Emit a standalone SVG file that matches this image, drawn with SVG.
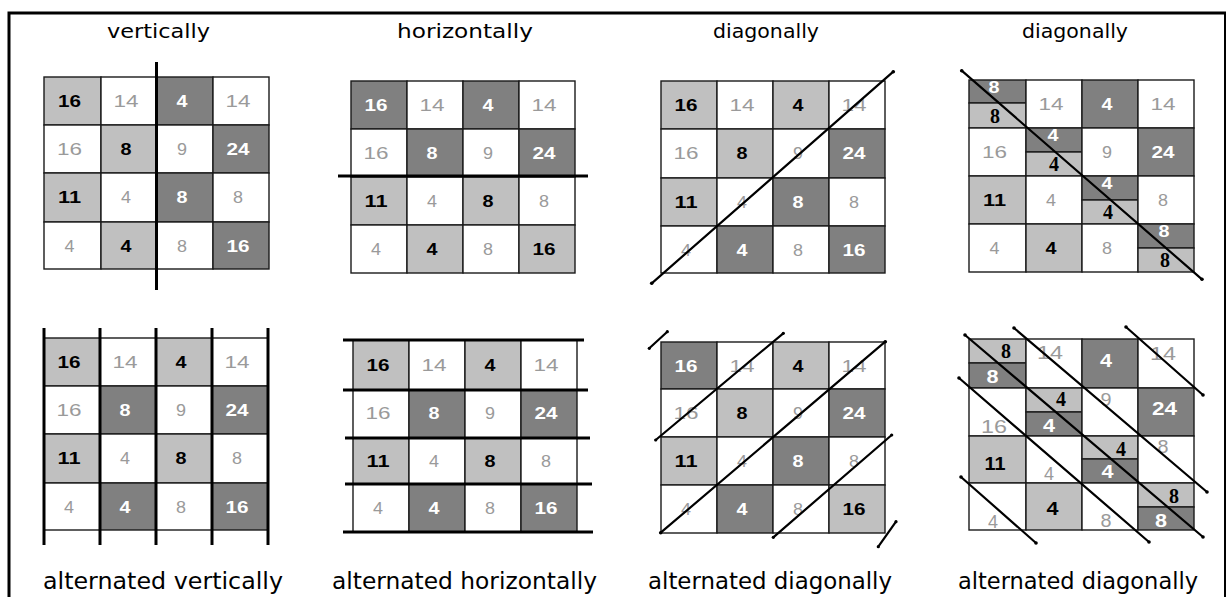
<svg xmlns="http://www.w3.org/2000/svg" width="1226" height="597" viewBox="0 0 1226 597">
<style>
rect.c{stroke:#1a1a1a;stroke-width:1.4}
.L{fill:#c0c0c0}.D{fill:#808080}.W{fill:#ffffff}
text{font-family:"Liberation Sans",Arial,sans-serif;font-size:17px;text-anchor:middle}
.b{fill:#000;font-weight:bold}
.g{fill:#9a9a9a}
.w{fill:#fff;font-weight:bold}
.s{fill:#000;font-weight:bold;font-family:"Liberation Serif","Times New Roman",serif;font-size:20px}
.big{font-size:18px}
.lbl{font-family:"DejaVu Sans",sans-serif;font-size:20px;fill:#000}
.lbl2{font-family:"DejaVu Sans",sans-serif;font-size:23px;fill:#000}
.thick{stroke:#000;stroke-width:3;fill:none}
.diag{stroke:#000;stroke-width:2.2;stroke-linecap:round;fill:none}
.dot{fill:#000}
</style>
<rect x="9" y="13" width="1216.5" height="620" fill="#fff" stroke="#000" stroke-width="3"/>

<g id="labels">
<text class="lbl" x="158.5" y="38" textLength="103" lengthAdjust="spacingAndGlyphs">vertically</text>
<text class="lbl" x="465" y="38" textLength="136" lengthAdjust="spacingAndGlyphs">horizontally</text>
<text class="lbl" x="766" y="38" textLength="106" lengthAdjust="spacingAndGlyphs">diagonally</text>
<text class="lbl" x="1075" y="38" textLength="106" lengthAdjust="spacingAndGlyphs">diagonally</text>
<text class="lbl2" x="163" y="589" textLength="240" lengthAdjust="spacingAndGlyphs">alternated vertically</text>
<text class="lbl2" x="464.5" y="589" textLength="265" lengthAdjust="spacingAndGlyphs">alternated horizontally</text>
<text class="lbl2" x="770" y="589" textLength="244" lengthAdjust="spacingAndGlyphs">alternated diagonally</text>
<text class="lbl2" x="1078" y="589" textLength="240" lengthAdjust="spacingAndGlyphs">alternated diagonally</text>
</g>

<!-- Grid 1: vertically -->
<g id="grid1">
<rect class="c L" x="44" y="77" width="57" height="48"/><rect class="c W" x="101" y="77" width="56" height="48"/><rect class="c D" x="157" y="77" width="56" height="48"/><rect class="c W" x="213" y="77" width="56" height="48"/>
<rect class="c W" x="44" y="125" width="57" height="48"/><rect class="c L" x="101" y="125" width="56" height="48"/><rect class="c W" x="157" y="125" width="56" height="48"/><rect class="c D" x="213" y="125" width="56" height="48"/>
<rect class="c L" x="44" y="173" width="57" height="49"/><rect class="c W" x="101" y="173" width="56" height="49"/><rect class="c D" x="157" y="173" width="56" height="49"/><rect class="c W" x="213" y="173" width="56" height="49"/>
<rect class="c W" x="44" y="222" width="57" height="47"/><rect class="c L" x="101" y="222" width="56" height="47"/><rect class="c W" x="157" y="222" width="56" height="47"/><rect class="c D" x="213" y="222" width="56" height="47"/>
<text class="b" x="69.5" y="107" textLength="23" lengthAdjust="spacingAndGlyphs">16</text><text class="g" x="126" y="107" textLength="25" lengthAdjust="spacingAndGlyphs">14</text><text class="w" x="182" y="107" textLength="11" lengthAdjust="spacingAndGlyphs">4</text><text class="g" x="238" y="107" textLength="25" lengthAdjust="spacingAndGlyphs">14</text>
<text class="g" x="69.5" y="155" textLength="25" lengthAdjust="spacingAndGlyphs">16</text><text class="b" x="126" y="155" textLength="11" lengthAdjust="spacingAndGlyphs">8</text><text class="g" x="182" y="155" textLength="10" lengthAdjust="spacingAndGlyphs">9</text><text class="w" x="238" y="155" textLength="23" lengthAdjust="spacingAndGlyphs">24</text>
<text class="b" x="69.5" y="203" textLength="23" lengthAdjust="spacingAndGlyphs">11</text><text class="g" x="126" y="203" textLength="10" lengthAdjust="spacingAndGlyphs">4</text><text class="w" x="182" y="203" textLength="11" lengthAdjust="spacingAndGlyphs">8</text><text class="g" x="238" y="203" textLength="10" lengthAdjust="spacingAndGlyphs">8</text>
<text class="g" x="69.5" y="252" textLength="10" lengthAdjust="spacingAndGlyphs">4</text><text class="b" x="126" y="252" textLength="11" lengthAdjust="spacingAndGlyphs">4</text><text class="g" x="182" y="252" textLength="10" lengthAdjust="spacingAndGlyphs">8</text><text class="w" x="238" y="252" textLength="23" lengthAdjust="spacingAndGlyphs">16</text>
</g>

<!-- Grid 2: horizontally -->
<g id="grid2">
<rect class="c D" x="351" y="81" width="56" height="48"/><rect class="c W" x="407" y="81" width="56" height="48"/><rect class="c D" x="463" y="81" width="56" height="48"/><rect class="c W" x="519" y="81" width="56" height="48"/>
<rect class="c W" x="351" y="129" width="56" height="48"/><rect class="c D" x="407" y="129" width="56" height="48"/><rect class="c W" x="463" y="129" width="56" height="48"/><rect class="c D" x="519" y="129" width="56" height="48"/>
<rect class="c L" x="351" y="177" width="56" height="48"/><rect class="c W" x="407" y="177" width="56" height="48"/><rect class="c L" x="463" y="177" width="56" height="48"/><rect class="c W" x="519" y="177" width="56" height="48"/>
<rect class="c W" x="351" y="225" width="56" height="48"/><rect class="c L" x="407" y="225" width="56" height="48"/><rect class="c W" x="463" y="225" width="56" height="48"/><rect class="c L" x="519" y="225" width="56" height="48"/>
<text class="w" x="376" y="111" textLength="23" lengthAdjust="spacingAndGlyphs">16</text><text class="g" x="432" y="111" textLength="25" lengthAdjust="spacingAndGlyphs">14</text><text class="w" x="488" y="111" textLength="11" lengthAdjust="spacingAndGlyphs">4</text><text class="g" x="544" y="111" textLength="25" lengthAdjust="spacingAndGlyphs">14</text>
<text class="g" x="376" y="159" textLength="25" lengthAdjust="spacingAndGlyphs">16</text><text class="w" x="432" y="159" textLength="11" lengthAdjust="spacingAndGlyphs">8</text><text class="g" x="488" y="159" textLength="10" lengthAdjust="spacingAndGlyphs">9</text><text class="w" x="544" y="159" textLength="23" lengthAdjust="spacingAndGlyphs">24</text>
<text class="b" x="376" y="207" textLength="23" lengthAdjust="spacingAndGlyphs">11</text><text class="g" x="432" y="207" textLength="10" lengthAdjust="spacingAndGlyphs">4</text><text class="b" x="488" y="207" textLength="11" lengthAdjust="spacingAndGlyphs">8</text><text class="g" x="544" y="207" textLength="10" lengthAdjust="spacingAndGlyphs">8</text>
<text class="g" x="376" y="255" textLength="10" lengthAdjust="spacingAndGlyphs">4</text><text class="b" x="432" y="255" textLength="11" lengthAdjust="spacingAndGlyphs">4</text><text class="g" x="488" y="255" textLength="10" lengthAdjust="spacingAndGlyphs">8</text><text class="b" x="544" y="255" textLength="23" lengthAdjust="spacingAndGlyphs">16</text>
</g>

<!-- Grid 3: diagonally -->
<g id="grid3">
<rect class="c L" x="661" y="81" width="56" height="48"/><rect class="c W" x="717" y="81" width="56" height="48"/><rect class="c L" x="773" y="81" width="56" height="48"/><rect class="c W" x="829" y="81" width="56" height="48"/>
<rect class="c W" x="661" y="129" width="56" height="49"/><rect class="c L" x="717" y="129" width="56" height="49"/><rect class="c W" x="773" y="129" width="56" height="49"/><rect class="c D" x="829" y="129" width="56" height="49"/>
<rect class="c L" x="661" y="178" width="56" height="48"/><rect class="c W" x="717" y="178" width="56" height="48"/><rect class="c D" x="773" y="178" width="56" height="48"/><rect class="c W" x="829" y="178" width="56" height="48"/>
<rect class="c W" x="661" y="226" width="56" height="47"/><rect class="c D" x="717" y="226" width="56" height="47"/><rect class="c W" x="773" y="226" width="56" height="47"/><rect class="c D" x="829" y="226" width="56" height="47"/>
<text class="b" x="686" y="111" textLength="23" lengthAdjust="spacingAndGlyphs">16</text><text class="g" x="742" y="111" textLength="25" lengthAdjust="spacingAndGlyphs">14</text><text class="b" x="798" y="111" textLength="11" lengthAdjust="spacingAndGlyphs">4</text><text class="g" x="854" y="111" textLength="25" lengthAdjust="spacingAndGlyphs">14</text>
<text class="g" x="686" y="159" textLength="25" lengthAdjust="spacingAndGlyphs">16</text><text class="b" x="742" y="159" textLength="11" lengthAdjust="spacingAndGlyphs">8</text><text class="g" x="798" y="159" textLength="10" lengthAdjust="spacingAndGlyphs">9</text><text class="w" x="854" y="159" textLength="23" lengthAdjust="spacingAndGlyphs">24</text>
<text class="b" x="686" y="208" textLength="23" lengthAdjust="spacingAndGlyphs">11</text><text class="g" x="742" y="208" textLength="10" lengthAdjust="spacingAndGlyphs">4</text><text class="w" x="798" y="208" textLength="11" lengthAdjust="spacingAndGlyphs">8</text><text class="g" x="854" y="208" textLength="10" lengthAdjust="spacingAndGlyphs">8</text>
<text class="g" x="686" y="256" textLength="10" lengthAdjust="spacingAndGlyphs">4</text><text class="w" x="742" y="256" textLength="11" lengthAdjust="spacingAndGlyphs">4</text><text class="g" x="798" y="256" textLength="10" lengthAdjust="spacingAndGlyphs">8</text><text class="w" x="854" y="256" textLength="23" lengthAdjust="spacingAndGlyphs">16</text>
</g>

<!-- Grid 4: diagonally (split cells) -->
<g id="grid4">
<rect class="c D" x="969" y="80" width="57" height="23"/><rect class="c L" x="969" y="103" width="57" height="25"/><rect class="c W" x="1026" y="80" width="56" height="48"/><rect class="c D" x="1082" y="80" width="56" height="48"/><rect class="c W" x="1138" y="80" width="56" height="48"/>
<rect class="c W" x="969" y="128" width="57" height="48"/><rect class="c D" x="1026" y="128" width="56" height="24"/><rect class="c L" x="1026" y="152" width="56" height="24"/><rect class="c W" x="1082" y="128" width="56" height="48"/><rect class="c D" x="1138" y="128" width="56" height="48"/>
<rect class="c L" x="969" y="176" width="57" height="48"/><rect class="c W" x="1026" y="176" width="56" height="48"/><rect class="c D" x="1082" y="176" width="56" height="24"/><rect class="c L" x="1082" y="200" width="56" height="24"/><rect class="c W" x="1138" y="176" width="56" height="48"/>
<rect class="c W" x="969" y="224" width="57" height="48"/><rect class="c L" x="1026" y="224" width="56" height="48"/><rect class="c W" x="1082" y="224" width="56" height="48"/><rect class="c D" x="1138" y="224" width="56" height="24"/><rect class="c L" x="1138" y="248" width="56" height="24"/>
<text class="w" x="994" y="93" textLength="11" lengthAdjust="spacingAndGlyphs">8</text><text class="s" x="995" y="123">8</text><text class="g" x="1051" y="110" textLength="25" lengthAdjust="spacingAndGlyphs">14</text><text class="w" x="1107" y="110" textLength="11" lengthAdjust="spacingAndGlyphs">4</text><text class="g" x="1163" y="110" textLength="25" lengthAdjust="spacingAndGlyphs">14</text>
<text class="g" x="994.5" y="158" textLength="25" lengthAdjust="spacingAndGlyphs">16</text><text class="w" x="1053" y="141" textLength="11" lengthAdjust="spacingAndGlyphs">4</text><text class="s" x="1054" y="171">4</text><text class="g" x="1107" y="158" textLength="10" lengthAdjust="spacingAndGlyphs">9</text><text class="w" x="1163" y="158" textLength="23" lengthAdjust="spacingAndGlyphs">24</text>
<text class="b" x="994.5" y="206" textLength="23" lengthAdjust="spacingAndGlyphs">11</text><text class="g" x="1051" y="206" textLength="10" lengthAdjust="spacingAndGlyphs">4</text><text class="w" x="1107" y="189" textLength="11" lengthAdjust="spacingAndGlyphs">4</text><text class="s" x="1108" y="219">4</text><text class="g" x="1163" y="206" textLength="10" lengthAdjust="spacingAndGlyphs">8</text>
<text class="g" x="994.5" y="254" textLength="10" lengthAdjust="spacingAndGlyphs">4</text><text class="b" x="1051" y="254" textLength="11" lengthAdjust="spacingAndGlyphs">4</text><text class="g" x="1107" y="254" textLength="10" lengthAdjust="spacingAndGlyphs">8</text><text class="w" x="1164" y="237" textLength="11" lengthAdjust="spacingAndGlyphs">8</text><text class="s" x="1165" y="267">8</text>
</g>

<!-- Grid 5: alternated vertically -->
<g id="grid5">
<rect class="c L" x="44" y="338" width="56" height="48"/><rect class="c W" x="100" y="338" width="56" height="48"/><rect class="c L" x="156" y="338" width="56" height="48"/><rect class="c W" x="212" y="338" width="56" height="48"/>
<rect class="c W" x="44" y="386" width="56" height="48"/><rect class="c D" x="100" y="386" width="56" height="48"/><rect class="c W" x="156" y="386" width="56" height="48"/><rect class="c D" x="212" y="386" width="56" height="48"/>
<rect class="c L" x="44" y="434" width="56" height="49"/><rect class="c W" x="100" y="434" width="56" height="49"/><rect class="c L" x="156" y="434" width="56" height="49"/><rect class="c W" x="212" y="434" width="56" height="49"/>
<rect class="c W" x="44" y="483" width="56" height="47"/><rect class="c D" x="100" y="483" width="56" height="47"/><rect class="c W" x="156" y="483" width="56" height="47"/><rect class="c D" x="212" y="483" width="56" height="47"/>
<text class="b" x="69" y="368" textLength="23" lengthAdjust="spacingAndGlyphs">16</text><text class="g" x="125" y="368" textLength="25" lengthAdjust="spacingAndGlyphs">14</text><text class="b" x="181" y="368" textLength="11" lengthAdjust="spacingAndGlyphs">4</text><text class="g" x="237" y="368" textLength="25" lengthAdjust="spacingAndGlyphs">14</text>
<text class="g" x="69" y="416" textLength="25" lengthAdjust="spacingAndGlyphs">16</text><text class="w" x="125" y="416" textLength="11" lengthAdjust="spacingAndGlyphs">8</text><text class="g" x="181" y="416" textLength="10" lengthAdjust="spacingAndGlyphs">9</text><text class="w" x="237" y="416" textLength="23" lengthAdjust="spacingAndGlyphs">24</text>
<text class="b" x="69" y="464" textLength="23" lengthAdjust="spacingAndGlyphs">11</text><text class="g" x="125" y="464" textLength="10" lengthAdjust="spacingAndGlyphs">4</text><text class="b" x="181" y="464" textLength="11" lengthAdjust="spacingAndGlyphs">8</text><text class="g" x="237" y="464" textLength="10" lengthAdjust="spacingAndGlyphs">8</text>
<text class="g" x="69" y="513" textLength="10" lengthAdjust="spacingAndGlyphs">4</text><text class="w" x="125" y="513" textLength="11" lengthAdjust="spacingAndGlyphs">4</text><text class="g" x="181" y="513" textLength="10" lengthAdjust="spacingAndGlyphs">8</text><text class="w" x="237" y="513" textLength="23" lengthAdjust="spacingAndGlyphs">16</text>
</g>

<!-- Grid 6: alternated horizontally -->
<g id="grid6">
<rect class="c L" x="353" y="340" width="56" height="50"/><rect class="c W" x="409" y="340" width="56" height="50"/><rect class="c L" x="465" y="340" width="56" height="50"/><rect class="c W" x="521" y="340" width="56" height="50"/>
<rect class="c W" x="353" y="390" width="56" height="48"/><rect class="c D" x="409" y="390" width="56" height="48"/><rect class="c W" x="465" y="390" width="56" height="48"/><rect class="c D" x="521" y="390" width="56" height="48"/>
<rect class="c L" x="353" y="438" width="56" height="46"/><rect class="c W" x="409" y="438" width="56" height="46"/><rect class="c L" x="465" y="438" width="56" height="46"/><rect class="c W" x="521" y="438" width="56" height="46"/>
<rect class="c W" x="353" y="484" width="56" height="48"/><rect class="c D" x="409" y="484" width="56" height="48"/><rect class="c W" x="465" y="484" width="56" height="48"/><rect class="c D" x="521" y="484" width="56" height="48"/>
<text class="b" x="378" y="371" textLength="23" lengthAdjust="spacingAndGlyphs">16</text><text class="g" x="434" y="371" textLength="25" lengthAdjust="spacingAndGlyphs">14</text><text class="b" x="490" y="371" textLength="11" lengthAdjust="spacingAndGlyphs">4</text><text class="g" x="546" y="371" textLength="25" lengthAdjust="spacingAndGlyphs">14</text>
<text class="g" x="378" y="419" textLength="25" lengthAdjust="spacingAndGlyphs">16</text><text class="w" x="434" y="419" textLength="11" lengthAdjust="spacingAndGlyphs">8</text><text class="g" x="490" y="419" textLength="10" lengthAdjust="spacingAndGlyphs">9</text><text class="w" x="546" y="419" textLength="23" lengthAdjust="spacingAndGlyphs">24</text>
<text class="b" x="378" y="467" textLength="23" lengthAdjust="spacingAndGlyphs">11</text><text class="g" x="434" y="467" textLength="10" lengthAdjust="spacingAndGlyphs">4</text><text class="b" x="490" y="467" textLength="11" lengthAdjust="spacingAndGlyphs">8</text><text class="g" x="546" y="467" textLength="10" lengthAdjust="spacingAndGlyphs">8</text>
<text class="g" x="378" y="514" textLength="10" lengthAdjust="spacingAndGlyphs">4</text><text class="w" x="434" y="514" textLength="11" lengthAdjust="spacingAndGlyphs">4</text><text class="g" x="490" y="514" textLength="10" lengthAdjust="spacingAndGlyphs">8</text><text class="w" x="546" y="514" textLength="23" lengthAdjust="spacingAndGlyphs">16</text>
</g>

<!-- Grid 7: alternated diagonally -->
<g id="grid7">
<rect class="c D" x="661" y="342" width="56" height="47"/><rect class="c W" x="717" y="342" width="56" height="47"/><rect class="c L" x="773" y="342" width="56" height="47"/><rect class="c W" x="829" y="342" width="56" height="47"/>
<rect class="c W" x="661" y="389" width="56" height="48"/><rect class="c L" x="717" y="389" width="56" height="48"/><rect class="c W" x="773" y="389" width="56" height="48"/><rect class="c D" x="829" y="389" width="56" height="48"/>
<rect class="c L" x="661" y="437" width="56" height="48"/><rect class="c W" x="717" y="437" width="56" height="48"/><rect class="c D" x="773" y="437" width="56" height="48"/><rect class="c W" x="829" y="437" width="56" height="48"/>
<rect class="c W" x="661" y="485" width="56" height="48"/><rect class="c D" x="717" y="485" width="56" height="48"/><rect class="c W" x="773" y="485" width="56" height="48"/><rect class="c L" x="829" y="485" width="56" height="48"/>
<text class="w" x="686" y="372" textLength="23" lengthAdjust="spacingAndGlyphs">16</text><text class="g" x="742" y="372" textLength="25" lengthAdjust="spacingAndGlyphs">14</text><text class="b" x="798" y="372" textLength="11" lengthAdjust="spacingAndGlyphs">4</text><text class="g" x="854" y="372" textLength="25" lengthAdjust="spacingAndGlyphs">14</text>
<text class="g" x="686" y="419" textLength="25" lengthAdjust="spacingAndGlyphs">16</text><text class="b" x="742" y="419" textLength="11" lengthAdjust="spacingAndGlyphs">8</text><text class="g" x="798" y="419" textLength="10" lengthAdjust="spacingAndGlyphs">9</text><text class="w" x="854" y="419" textLength="23" lengthAdjust="spacingAndGlyphs">24</text>
<text class="b" x="686" y="467" textLength="23" lengthAdjust="spacingAndGlyphs">11</text><text class="g" x="742" y="467" textLength="10" lengthAdjust="spacingAndGlyphs">4</text><text class="w" x="798" y="467" textLength="11" lengthAdjust="spacingAndGlyphs">8</text><text class="g" x="854" y="467" textLength="10" lengthAdjust="spacingAndGlyphs">8</text>
<text class="g" x="686" y="515" textLength="10" lengthAdjust="spacingAndGlyphs">4</text><text class="w" x="742" y="515" textLength="11" lengthAdjust="spacingAndGlyphs">4</text><text class="g" x="798" y="515" textLength="10" lengthAdjust="spacingAndGlyphs">8</text><text class="b" x="854" y="515" textLength="23" lengthAdjust="spacingAndGlyphs">16</text>
</g>

<!-- Grid 8: alternated diagonally (split cells) -->
<g id="grid8">
<rect class="c L" x="969" y="339" width="57" height="24"/><rect class="c D" x="969" y="363" width="57" height="25"/><rect class="c W" x="1026" y="339" width="56" height="49"/><rect class="c D" x="1082" y="339" width="56" height="49"/><rect class="c W" x="1138" y="339" width="56" height="49"/>
<rect class="c W" x="969" y="388" width="57" height="48"/><rect class="c L" x="1026" y="388" width="56" height="24"/><rect class="c D" x="1026" y="412" width="56" height="24"/><rect class="c W" x="1082" y="388" width="56" height="48"/><rect class="c D" x="1138" y="388" width="56" height="48"/>
<rect class="c L" x="969" y="436" width="57" height="47"/><rect class="c W" x="1026" y="436" width="56" height="47"/><rect class="c L" x="1082" y="436" width="56" height="23"/><rect class="c D" x="1082" y="459" width="56" height="24"/><rect class="c W" x="1138" y="436" width="56" height="47"/>
<rect class="c W" x="969" y="483" width="57" height="47"/><rect class="c L" x="1026" y="483" width="56" height="47"/><rect class="c W" x="1082" y="483" width="56" height="47"/><rect class="c L" x="1138" y="483" width="56" height="24"/><rect class="c D" x="1138" y="507" width="56" height="23"/>
<text class="s" x="1006" y="358">8</text><text class="w big" x="992.5" y="383" textLength="12" lengthAdjust="spacingAndGlyphs">8</text>
<text class="g big" x="1050" y="359" textLength="26" lengthAdjust="spacingAndGlyphs">14</text>
<text class="w big" x="1106" y="367" textLength="12" lengthAdjust="spacingAndGlyphs">4</text>
<text class="g big" x="1163" y="360" textLength="26" lengthAdjust="spacingAndGlyphs">14</text>
<text class="g big" x="994" y="433" textLength="26" lengthAdjust="spacingAndGlyphs">16</text>
<text class="s" x="1061" y="406">4</text><text class="w big" x="1049" y="432" textLength="12" lengthAdjust="spacingAndGlyphs">4</text>
<text class="g big" x="1106" y="406" textLength="11" lengthAdjust="spacingAndGlyphs">9</text>
<text class="w big" x="1164.5" y="415" textLength="25" lengthAdjust="spacingAndGlyphs">24</text>
<text class="b big" x="995" y="470" textLength="21" lengthAdjust="spacingAndGlyphs">11</text>
<text class="g big" x="1049" y="480" textLength="10" lengthAdjust="spacingAndGlyphs">4</text>
<text class="s" x="1121" y="456">4</text><text class="w big" x="1107.5" y="478" textLength="12" lengthAdjust="spacingAndGlyphs">4</text>
<text class="g big" x="1163" y="453" textLength="11" lengthAdjust="spacingAndGlyphs">8</text>
<text class="g big" x="993" y="528" textLength="10" lengthAdjust="spacingAndGlyphs">4</text>
<text class="b big" x="1052.5" y="515" textLength="12" lengthAdjust="spacingAndGlyphs">4</text>
<text class="g big" x="1106" y="527" textLength="11" lengthAdjust="spacingAndGlyphs">8</text>
<text class="s" x="1174" y="503">8</text><text class="w big" x="1161" y="527" textLength="12" lengthAdjust="spacingAndGlyphs">8</text>
</g>

<!-- Dividing lines -->
<g id="connectors">
<line class="thick" x1="156.5" y1="62" x2="156.5" y2="290"/>
<line class="thick" x1="338" y1="176" x2="588" y2="176"/>
<line class="diag" x1="651.7" y1="283.3" x2="893.3" y2="71.7"/>
<line class="diag" x1="961.7" y1="70.7" x2="1202" y2="279.3"/>
<line class="thick" x1="44" y1="328" x2="44" y2="545"/>
<line class="thick" x1="100" y1="328" x2="100" y2="545"/>
<line class="thick" x1="156" y1="328" x2="156" y2="545"/>
<line class="thick" x1="212" y1="328" x2="212" y2="545"/>
<line class="thick" x1="268" y1="328" x2="268" y2="545"/>
<line class="thick" x1="343" y1="340" x2="584" y2="340"/>
<line class="thick" x1="343" y1="390" x2="588" y2="390"/>
<line class="thick" x1="345" y1="438" x2="590" y2="438"/>
<line class="thick" x1="345" y1="484" x2="592" y2="484"/>
<line class="thick" x1="343" y1="532" x2="593" y2="532"/>
<line class="diag" x1="649.3" y1="348.3" x2="667.3" y2="331.7"/>
<line class="diag" x1="655.7" y1="440" x2="783.3" y2="333.3"/>
<line class="diag" x1="660.7" y1="532.7" x2="885.3" y2="341.7"/>
<line class="diag" x1="773.3" y1="537.3" x2="891.7" y2="435"/>
<line class="diag" x1="878.3" y1="546.7" x2="896" y2="521.7"/>
<line class="diag" x1="965" y1="335" x2="1203" y2="537"/>
<line class="diag" x1="1014" y1="328" x2="1207" y2="492"/>
<line class="diag" x1="1126" y1="327" x2="1203" y2="395"/>
<line class="diag" x1="959" y1="378" x2="1149" y2="542"/>
<line class="diag" x1="961" y1="477" x2="1036" y2="543"/>
<g class="dot">
<circle cx="651.7" cy="283.3" r="1.8"/><circle cx="893.3" cy="71.7" r="1.8"/>
<circle cx="961.7" cy="70.7" r="1.8"/><circle cx="1202" cy="279.3" r="1.8"/>
<circle cx="649.3" cy="348.3" r="1.6"/><circle cx="667.3" cy="331.7" r="1.6"/>
<circle cx="655.7" cy="440" r="1.6"/><circle cx="783.3" cy="333.3" r="1.6"/>
<circle cx="660.7" cy="532.7" r="1.8"/><circle cx="885.3" cy="341.7" r="1.8"/>
<circle cx="773.3" cy="537.3" r="1.6"/><circle cx="891.7" cy="435" r="1.6"/>
<circle cx="878.3" cy="546.7" r="1.6"/><circle cx="896" cy="521.7" r="1.6"/>
<circle cx="965" cy="335" r="1.8"/><circle cx="1203" cy="537" r="1.8"/>
<circle cx="1014" cy="328" r="1.8"/><circle cx="1207" cy="492" r="1.8"/>
<circle cx="1126" cy="327" r="1.8"/><circle cx="1203" cy="395" r="1.8"/>
<circle cx="959" cy="378" r="1.8"/><circle cx="1149" cy="542" r="1.8"/>
<circle cx="961" cy="477" r="1.8"/><circle cx="1036" cy="543" r="1.8"/>
</g>
</g>
</svg>
